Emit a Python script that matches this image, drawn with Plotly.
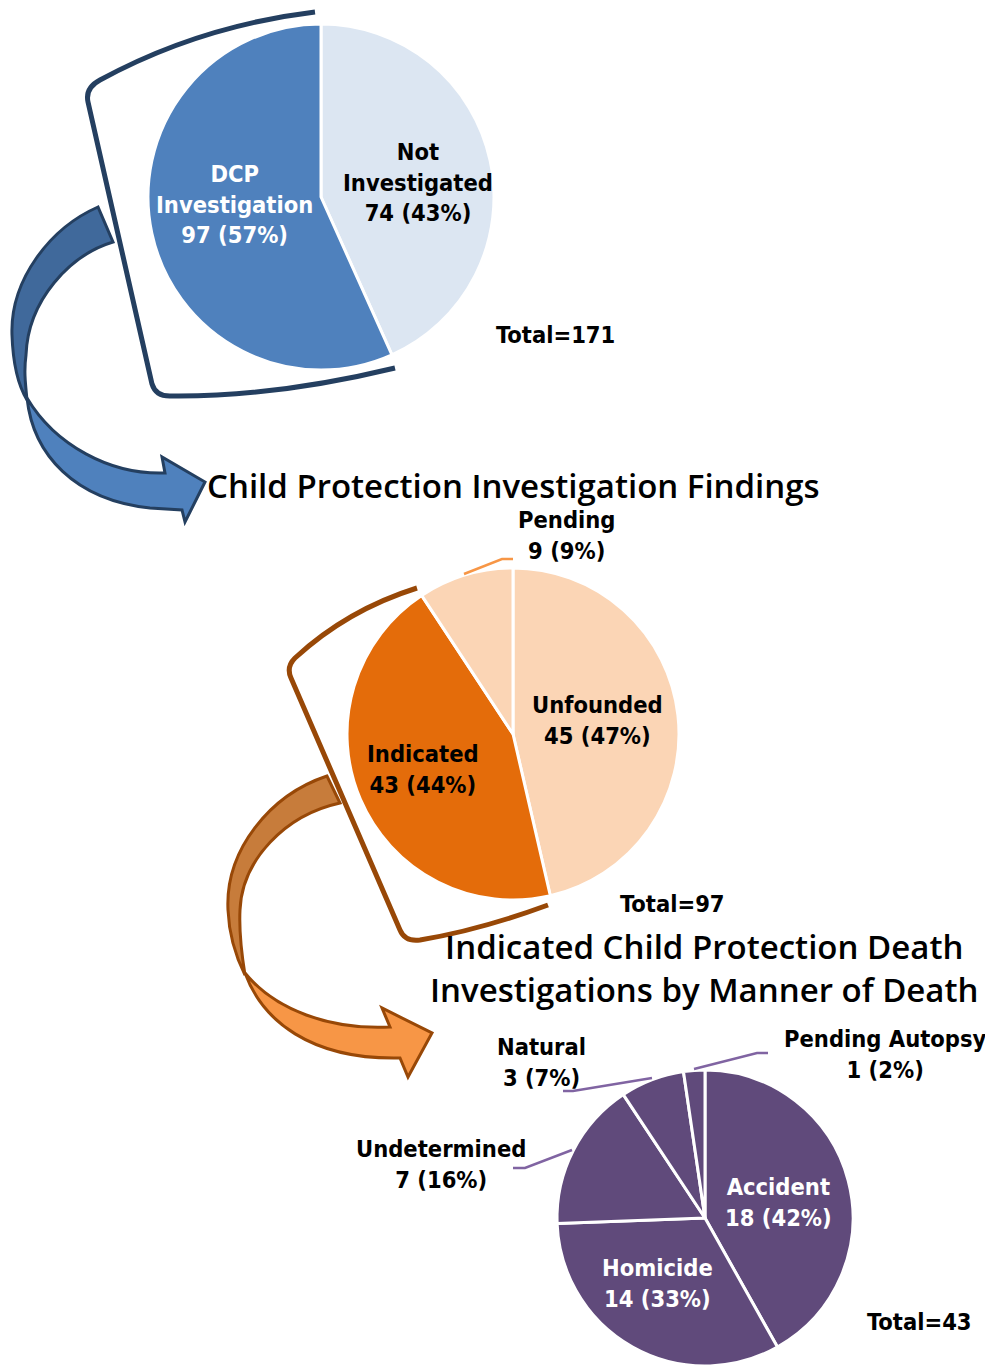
import plotly.graph_objects as go

# The page body has an 8px margin; the figure is sized so that the
# coordinate system below matches window pixels.
OFF = 8
WIN_W, WIN_H = 993, 1368
W, H = WIN_W - OFF, WIN_H - OFF

# ---------------- data ----------------
screen_labels = ["Not Investigated", "DCP Investigation"]
screen_values = [74, 97]
screen_pcts = [43, 57]
screen_total = 171

finding_labels = ["Unfounded", "Indicated", "Pending"]
finding_values = [45, 43, 9]
finding_pcts = [47, 44, 9]
finding_total = 97

manner_labels = ["Accident", "Homicide", "Undetermined", "Natural", "Pending Autopsy"]
manner_values = [18, 14, 7, 3, 1]
manner_pcts = [42, 33, 16, 7, 2]
manner_total = 43

title_findings = "Child Protection Investigation Findings"
title_manner = "Indicated Child Protection Death<br>Investigations by Manner of Death"

# ---------------- style ----------------
LABEL_FONT = "DejaVu Sans Condensed, DejaVu Sans"
TITLE_FONT = "Open Sans"
LSIZE = 23.5
TSIZE = 33


def dom(cx, cy, r):
    return dict(x=[(cx - r - OFF) / W, (cx + r - OFF) / W],
                y=[1 - (cy + r - OFF) / H, 1 - (cy - r - OFF) / H])


fig = go.Figure()

# invisible trace to establish a pixel-like coordinate system for decorations
fig.add_trace(go.Scatter(x=[OFF, WIN_W], y=[OFF, WIN_H], mode="markers", marker=dict(opacity=0),
                         hoverinfo="skip", showlegend=False))

fig.add_trace(go.Pie(labels=screen_labels, values=screen_values, sort=False,
                     direction="clockwise", rotation=0, textinfo="none",
                     marker=dict(colors=["#DCE6F2", "#4F81BD"], line=dict(color="white", width=3)),
                     domain=dom(321, 197, 173), showlegend=False))

fig.add_trace(go.Pie(labels=finding_labels, values=finding_values, sort=False,
                     direction="clockwise", rotation=0, textinfo="none",
                     marker=dict(colors=["#FBD5B5", "#E46C0A", "#FBD5B5"], line=dict(color="white", width=3)),
                     domain=dom(513, 734, 166), showlegend=False))

fig.add_trace(go.Pie(labels=manner_labels, values=manner_values, sort=False,
                     direction="clockwise", rotation=0, textinfo="none",
                     marker=dict(colors=["#604A7B"] * 5, line=dict(color="white", width=3)),
                     domain=dom(705, 1218, 148), showlegend=False))

shapes = []


def path(d, line_color, width, fill=None):
    return dict(type="path", path=d, xref="x", yref="y", layer="above",
                line=dict(color=line_color, width=width),
                fillcolor=fill if fill else "rgba(0,0,0,0)")

# brackets
shapes.append(path("M 315,12 Q 199,26 100,80 Q 85,88 88,102 L 152,384 Q 156,397 172,396 Q 275,397 395,368",
                   "#243F60", 5))
shapes.append(path("M 417,588 Q 347,610 295,658 Q 286,667 291,678 L 400,930 Q 405,942 420,940 Q 480,930 548,905",
                   "#984807", 5))

# blue curved arrow
shapes.append(path("M 27,398 C 33,455 75,500 150,508 L 182,510 L 185,522 L 205,482 L 162,457 L 165,473 "
                   "C 110,475 55,445 27,398 Z", "#243F60", 3, "#4F81BD"))
shapes.append(path("M 98,207 C 50,228 10,280 12,335 C 13,365 18,385 27,400 C 25,380 24,370 26,355 "
                   "C 28,300 70,255 113,242 Z", "#243F60", 3, "#40699B"))

# orange curved arrow
shapes.append(path("M 245,973 C 262,1020 310,1060 400,1058 L 408,1077 L 432,1033 L 382,1008 L 390,1027 "
                   "C 330,1030 275,1010 245,973 Z", "#984807", 3, "#F79646"))
shapes.append(path("M 327,776 C 270,795 225,850 228,910 C 229,935 235,955 245,975 C 241,950 239,930 240,910 "
                   "C 242,860 285,815 340,803 Z", "#984807", 3, "#C77C3B"))

# leader lines
shapes.append(path("M 464,574 L 502,559 L 513,559", "#F79646", 2.5))
shapes.append(path("M 694,1069 L 757,1053 L 768,1053", "#8064A2", 2.5))
shapes.append(path("M 652,1078 L 573,1091 L 563,1091", "#8064A2", 2.5))
shapes.append(path("M 572,1150 L 525,1168 L 513,1168", "#8064A2", 2.5))

annotations = []


def ann(text, x, y, color="black", size=LSIZE, family=LABEL_FONT, weight="bold"):
    annotations.append(dict(text=text, x=x, y=y, xref="x", yref="y", showarrow=False,
                            xanchor="center", yanchor="middle", align="center",
                            font=dict(family=family, size=size, color=color, weight=weight)))


def lab(names, vals, pcts, i, wrap=True):
    n = names[i].replace(" ", "<br>") if wrap else names[i]
    return f"{n}<br>{vals[i]} ({pcts[i]}%)"

# pie 1 labels
ann(lab(screen_labels, screen_values, screen_pcts, 0), 418, 182)
ann(lab(screen_labels, screen_values, screen_pcts, 1), 234, 204, color="white")
ann(f"Total={screen_total}", 555, 335)

# pie 2 labels
ann(lab(finding_labels, finding_values, finding_pcts, 0), 597, 720)
ann(lab(finding_labels, finding_values, finding_pcts, 1), 423, 769)
ann(lab(finding_labels, finding_values, finding_pcts, 2), 566, 535)
ann(f"Total={finding_total}", 672, 904)

# pie 3 labels
ann(lab(manner_labels, manner_values, manner_pcts, 0), 778, 1202, color="white")
ann(lab(manner_labels, manner_values, manner_pcts, 1), 657, 1283, color="white")
ann(lab(manner_labels, manner_values, manner_pcts, 2), 441, 1164)
ann(lab(manner_labels, manner_values, manner_pcts, 3), 541, 1062)
ann(lab(manner_labels, manner_values, manner_pcts, 4, wrap=False), 885, 1054)
ann(f"Total={manner_total}", 919, 1322)

# titles
ann(title_findings, 513, 485, size=TSIZE, family=TITLE_FONT, weight=600)
ann(title_manner, 704, 968, size=TSIZE, family=TITLE_FONT, weight=600)

fig.update_layout(
    width=W, height=H,
    margin=dict(l=0, r=0, t=0, b=0),
    paper_bgcolor="white", plot_bgcolor="rgba(0,0,0,0)",
    xaxis=dict(range=[OFF, WIN_W], visible=False, fixedrange=True, domain=[0, 1]),
    yaxis=dict(range=[WIN_H, OFF], visible=False, fixedrange=True, domain=[0, 1]),
    shapes=shapes, annotations=annotations,
    showlegend=False,
)

fig.write_html("out.html")
